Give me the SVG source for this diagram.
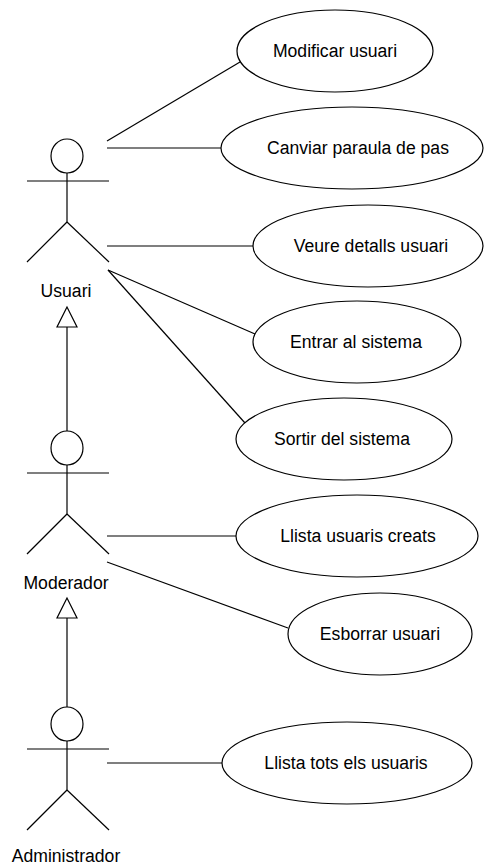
<svg xmlns="http://www.w3.org/2000/svg" width="488" height="865" viewBox="0 0 488 865">
<style>
.bg{fill:#fff}
.ln{stroke:#000;stroke-width:1.2;fill:none}
.uc{stroke:#000;stroke-width:1.2;fill:#fff}
.tx{font-family:"Liberation Sans",Arial,sans-serif;font-size:17.6px;fill:#000;text-anchor:middle}
.gen{stroke:#000;stroke-width:1.2;fill:#fff}
</style>
<defs>
<g id="actor">
<ellipse cx="0" cy="17" rx="16" ry="17" class="ln"/>
<line x1="0" y1="34" x2="0" y2="83" class="ln"/>
<line x1="-40" y1="42" x2="42" y2="42" class="ln"/>
<line x1="0" y1="83" x2="-40" y2="123" class="ln"/>
<line x1="0" y1="83" x2="42" y2="123" class="ln"/>
</g>
</defs>
<rect class="bg" x="0" y="0" width="488" height="865"/>
<g id="connectors">
<line class="ln" x1="107" y1="141" x2="240" y2="62"/>
<line class="ln" x1="107" y1="148" x2="221" y2="148"/>
<line class="ln" x1="107" y1="246" x2="253" y2="246"/>
<line class="ln" x1="108" y1="270" x2="255" y2="334"/>
<line class="ln" x1="108" y1="270" x2="245" y2="423"/>
<line class="ln" x1="107" y1="536" x2="236" y2="536"/>
<line class="ln" x1="107" y1="562" x2="288" y2="628"/>
<line class="ln" x1="107" y1="763" x2="222" y2="763"/>
<line class="ln" x1="67" y1="327" x2="67" y2="431"/>
<polygon class="gen" points="67,307 57,327 77,327"/>
<line class="ln" x1="67" y1="618" x2="67" y2="707"/>
<polygon class="gen" points="67,598 57,618 77,618"/>
</g>
<g id="actor-usuari">
<use href="#actor" x="67" y="139"/>
<text class="tx" x="66" y="297">Usuari</text>
</g>
<g id="actor-moderador">
<use href="#actor" x="67" y="431"/>
<text class="tx" x="66" y="589">Moderador</text>
</g>
<g id="actor-administrador">
<use href="#actor" x="67" y="707"/>
<text class="tx" x="66" y="862">Administrador</text>
</g>
<g id="uc-modificar">
<ellipse class="uc" cx="335" cy="51" rx="98" ry="41"/>
<text class="tx" x="335" y="57">Modificar usuari</text>
</g>
<g id="uc-canviar">
<ellipse class="uc" cx="352" cy="148" rx="131" ry="41"/>
<text class="tx" x="358" y="154">Canviar paraula de pas</text>
</g>
<g id="uc-veure">
<ellipse class="uc" cx="368" cy="246" rx="115" ry="41"/>
<text class="tx" x="371" y="252">Veure detalls usuari</text>
</g>
<g id="uc-entrar">
<ellipse class="uc" cx="357" cy="342" rx="104" ry="41"/>
<text class="tx" x="356" y="348">Entrar al sistema</text>
</g>
<g id="uc-sortir">
<ellipse class="uc" cx="344" cy="439" rx="108" ry="41"/>
<text class="tx" x="342" y="445">Sortir del sistema</text>
</g>
<g id="uc-llista-creats">
<ellipse class="uc" cx="357" cy="536" rx="121" ry="41"/>
<text class="tx" x="358" y="542">Llista usuaris creats</text>
</g>
<g id="uc-esborrar">
<ellipse class="uc" cx="380" cy="634" rx="92" ry="41"/>
<text class="tx" x="380" y="640">Esborrar usuari</text>
</g>
<g id="uc-llista-tots">
<ellipse class="uc" cx="347" cy="763" rx="125" ry="41"/>
<text class="tx" x="346" y="769">Llista tots els usuaris</text>
</g>
</svg>
